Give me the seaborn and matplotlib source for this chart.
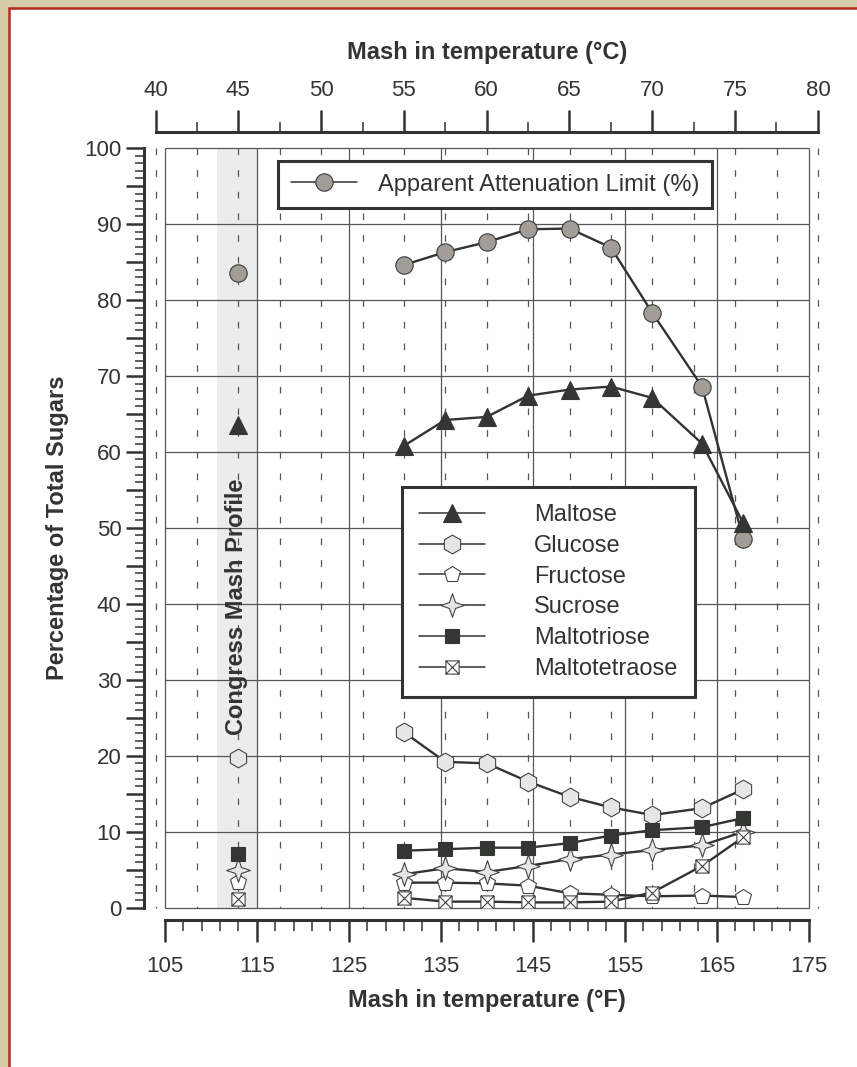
import matplotlib
matplotlib.use("Agg")
import matplotlib.pyplot as plt
import numpy as np
import pandas as pd
import seaborn as sns
from matplotlib.lines import Line2D
from matplotlib.markers import MarkerStyle
from matplotlib.patches import Rectangle
from matplotlib.path import Path
from matplotlib.ticker import FuncFormatter, MultipleLocator

# ---------------------------------------------------------------------
# Data
# ---------------------------------------------------------------------
mash_temp_c = [55, 57.5, 60, 62.5, 65, 67.5, 70, 73, 75.5]
congress_temp_c = 45
congress_band_f = [110.7, 115]

aal = [84.6, 86.3, 87.6, 89.3, 89.4, 86.9, 78.3, 68.6, 48.5]
maltose = [60.8, 64.2, 64.6, 67.4, 68.2, 68.6, 67.1, 61.1, 50.6]
glucose = [23.1, 19.2, 19.0, 16.6, 14.6, 13.2, 12.2, 13.1, 15.6]
fructose = [3.3, 3.3, 3.2, 2.9, 1.9, 1.7, 1.5, 1.6, 1.4]
sucrose = [4.4, 5.2, 4.7, 5.5, 6.4, 7.0, 7.6, 8.2, 10.0]
maltotriose = [7.5, 7.7, 7.9, 7.9, 8.5, 9.5, 10.2, 10.6, 11.8]
maltotetraose = [1.3, 0.8, 0.8, 0.7, 0.7, 0.8, 2.0, 5.5, 9.3]

series_names = ["Apparent Attenuation Limit (%)", "Maltose", "Glucose",
                "Fructose", "Sucrose", "Maltotriose", "Maltotetraose"]
series_values = [aal, maltose, glucose, fructose, sucrose, maltotriose, maltotetraose]
congress_values = [83.6, 63.5, 19.7, 3.4, 5.0, 7.1, 1.1]


def c_to_f(c):
    return np.asarray(c, dtype=float) * 9 / 5 + 32


mash_df = pd.DataFrame({"temp_f": np.tile(c_to_f(mash_temp_c), len(series_names)),
                        "pct": np.concatenate(series_values),
                        "sugar": np.repeat(series_names, len(mash_temp_c))})
congress_df = pd.DataFrame({"temp_f": c_to_f([congress_temp_c] * len(series_names)),
                            "pct": congress_values,
                            "sugar": series_names})

# ---------------------------------------------------------------------
# Styles
# ---------------------------------------------------------------------
DARK = "#333333"
GRID = "#555555"

star4 = MarkerStyle(Path.unit_regular_star(4, innerCircle=0.36))
boxed_x = MarkerStyle(Path(
    [(-1, -1), (1, -1), (1, 1), (-1, 1), (-1, -1), (-1, -1), (1, 1), (-1, 1), (1, -1)],
    [Path.MOVETO, Path.LINETO, Path.LINETO, Path.LINETO, Path.CLOSEPOLY,
     Path.MOVETO, Path.LINETO, Path.MOVETO, Path.LINETO]))

marker_styles = {
    "Apparent Attenuation Limit (%)": dict(marker="o", markersize=12.5, markerfacecolor="#a29d96", markeredgecolor="#3a3a3a"),
    "Maltose": dict(marker="^", markersize=12.5, markerfacecolor="#333633", markeredgecolor="#333633"),
    "Glucose": dict(marker="h", markersize=13.5, markerfacecolor="#e6e6e6", markeredgecolor="#444444"),
    "Fructose": dict(marker="p", markersize=12, markerfacecolor="white", markeredgecolor="#444444"),
    "Sucrose": dict(marker=star4, markersize=17, markerfacecolor="#e6e6e6", markeredgecolor="#444444"),
    "Maltotriose": dict(marker="s", markersize=10.5, markerfacecolor="#333633", markeredgecolor="#333633"),
    "Maltotetraose": dict(marker=boxed_x, markersize=9.5, markerfacecolor="white", markeredgecolor="#444444"),
}

sns.set_theme(style="white")
plt.rcParams["font.family"] = ["Liberation Sans", "DejaVu Sans"]
plt.rcParams["lines.scale_dashes"] = False
plt.rcParams["text.color"] = DARK

W_PX, H_PX = 857, 1067
fig = plt.figure(figsize=(W_PX / 100, H_PX / 100), dpi=100)
fig.patch.set_facecolor("#d6cca8")
fig.add_artist(Rectangle((8.5 / W_PX, -0.01), 1.0, 1.01 - 7.5 / H_PX, transform=fig.transFigure,
                         facecolor="white", edgecolor="#b3291d", linewidth=1.8, zorder=0))

L, B, W, H = 164.7 / W_PX, 1 - 907.7 / H_PX, 644 / W_PX, 759.7 / H_PX
ax = fig.add_axes([L, B, W, H])
ax.set_facecolor("none")
ax.set_xlim(105, 175)
ax.set_ylim(0, 100)

# background: congress band + grid
ax.axvspan(*congress_band_f, color="#ececec", lw=0, zorder=0)
ax.vlines(np.arange(105, 176, 10), 0, 100, color=GRID, lw=0.9, zorder=1, clip_on=False)
ax.hlines(np.arange(0, 101, 10), 105, 175, color=GRID, lw=0.9, zorder=1, clip_on=False)
ax.vlines(c_to_f(np.arange(40, 80.1, 2.5)), 100, 0, color=GRID, lw=0.9,
          linestyles=[(0, (4.8, 10.8))], zorder=1, clip_on=False)

# data
for name in series_names:
    st = marker_styles[name]
    sns.lineplot(data=mash_df[mash_df["sugar"] == name], x="temp_f", y="pct", ax=ax,
                 color=DARK, lw=1.7, markeredgewidth=0.8, zorder=3, **st)
    sns.lineplot(data=congress_df[congress_df["sugar"] == name], x="temp_f", y="pct", ax=ax,
                 color=DARK, lw=0, markeredgewidth=0.8, zorder=3, **st)

ax.text(np.mean(congress_band_f), 39.6, "Congress Mash Profile", rotation=90,
        ha="center", va="center", fontsize=17, fontweight="bold", color=DARK, zorder=2)

# left axis
for side in ["top", "right"]:
    ax.spines[side].set_visible(False)
ax.spines["left"].set_position(("outward", 15.1))
ax.spines["bottom"].set_position(("outward", 9.2))
for side in ["left", "bottom"]:
    ax.spines[side].set_linewidth(2.2)
    ax.spines[side].set_color(DARK)
ax.yaxis.set_major_locator(MultipleLocator(5))
ax.yaxis.set_minor_locator(MultipleLocator(1))
ax.yaxis.set_major_formatter(FuncFormatter(lambda v, p: f"{v:.0f}" if v % 10 == 0 else ""))
ax.tick_params(axis="y", which="major", direction="out", length=13, width=1.8,
               color=DARK, labelsize=16, labelcolor=DARK, pad=3, left=True)
ax.tick_params(axis="y", which="minor", direction="out", length=6.5, width=1.1, color=DARK, left=True)

# bottom axis (deg F)
ax.set_xticks(np.arange(105, 176, 10))
ax.set_xticks(np.arange(105, 176, 2), minor=True)
ax.tick_params(axis="x", which="major", direction="out", length=15.8, width=1.8,
               color=DARK, labelsize=16, labelcolor=DARK, pad=9.5, bottom=True)
ax.tick_params(axis="x", which="minor", direction="out", length=8, width=1.1, color=DARK, bottom=True)
ax.set_xlabel("")
ax.set_ylabel("")

# top axis (deg C), spans 40-80 C = 104-176 F
ax_top = fig.add_axes([L - W / 70, 1 - 132.5 / H_PX, W * 72 / 70, 1e-4])
ax_top.set_facecolor("none")
ax_top.set_xlim(40, 80)
ax_top.set_xticks(np.arange(40, 81, 5))
ax_top.set_xticks(np.arange(40, 81, 2.5), minor=True)
ax_top.xaxis.set_ticks_position("top")
ax_top.xaxis.set_label_position("top")
ax_top.set_yticks([])
for side in ["bottom", "left", "right"]:
    ax_top.spines[side].set_visible(False)
ax_top.spines["top"].set_linewidth(2.2)
ax_top.spines["top"].set_color(DARK)
ax_top.tick_params(axis="x", which="major", direction="out", length=15.8, width=1.8,
                   color=DARK, labelsize=16, labelcolor=DARK, pad=6.5, top=True)
ax_top.tick_params(axis="x", which="minor", direction="out", length=7.2, width=1.1, color=DARK, top=True)

# axis titles
cx = (L + W / 2)
fig.text(cx, 1 - 53 / H_PX, "Mash in temperature (°C)", ha="center", va="center",
         fontsize=17, fontweight="bold", color=DARK)
fig.text(cx, 1 - 1001 / H_PX, "Mash in temperature (°F)", ha="center", va="center",
         fontsize=17, fontweight="bold", color=DARK)
fig.text(58 / W_PX, 1 - 528 / H_PX, "Percentage of Total Sugars", ha="center", va="center",
         rotation=90, fontsize=17, fontweight="bold", color=DARK)

# legends
handles = {name: Line2D([], [], color=DARK, lw=1.1, markeredgewidth=0.8, **marker_styles[name])
           for name in series_names}
leg_kw = dict(loc="upper left", borderaxespad=0, frameon=True, fancybox=False,
              edgecolor=DARK, framealpha=1, facecolor="white", fontsize=17,
              labelcolor=DARK, numpoints=1, handlelength=2.8)
leg1 = ax.legend([handles[series_names[0]]], [series_names[0]], bbox_to_anchor=(0.176, 0.983),
                 borderpad=0.54, handletextpad=0.9, **leg_kw)
leg1.get_frame().set_linewidth(2.2)
ax.add_artist(leg1)
leg2 = ax.legend([handles[n] for n in series_names[1:]], series_names[1:],
                 bbox_to_anchor=(0.3685, 0.5534), borderpad=0.72, handletextpad=2.08,
                 labelspacing=0.37, **leg_kw)
leg2.get_frame().set_linewidth(2.2)

fig.savefig("out.png", dpi=100)
